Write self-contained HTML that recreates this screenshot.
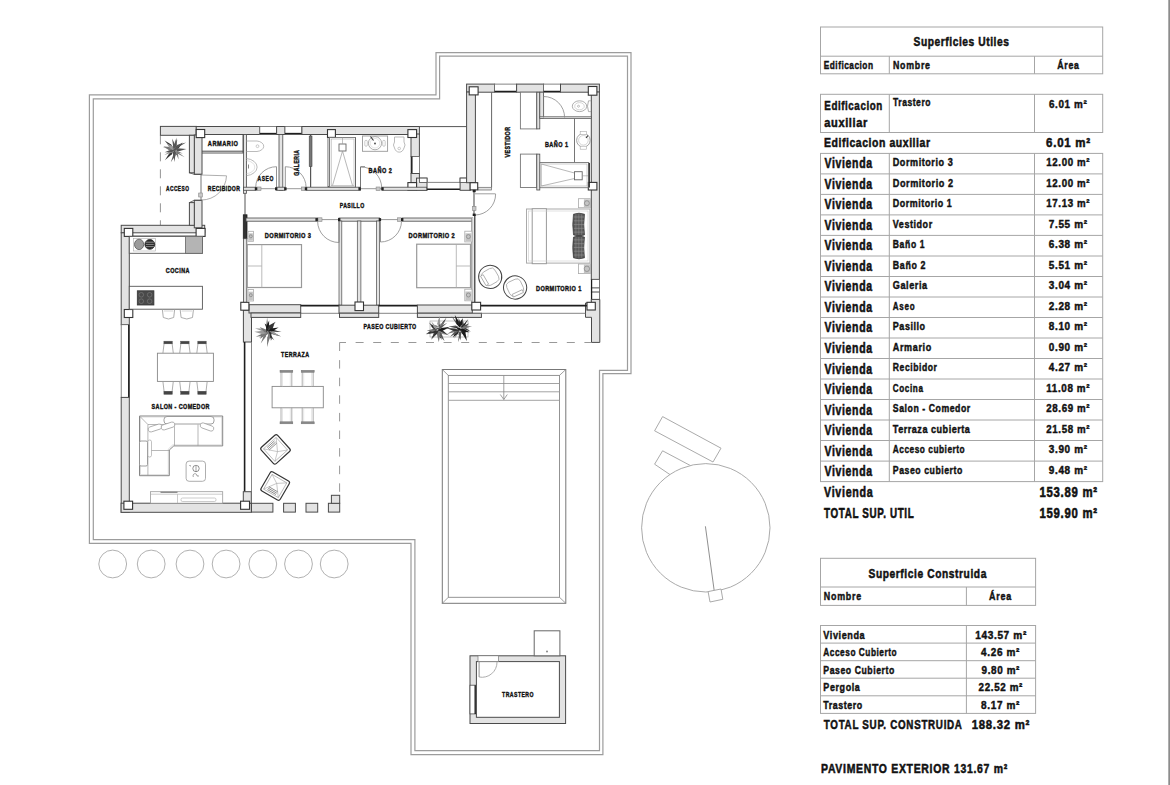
<!DOCTYPE html>
<html><head><meta charset="utf-8"><style>
html,body{margin:0;padding:0;background:#fff;width:1170px;height:785px;overflow:hidden}
svg{display:block;font-family:"Liberation Sans",sans-serif}
</style></head><body>
<svg width="1170" height="785" viewBox="0 0 1170 785">
<rect x="820.5" y="27.0" width="282.2" height="46.8" fill="none" stroke="#a6a6a6" stroke-width="1.0" />
<line x1="820.5" y1="56.2" x2="1102.7" y2="56.2" stroke="#a6a6a6" stroke-width="1.0" />
<line x1="889.3" y1="56.2" x2="889.3" y2="73.8" stroke="#a6a6a6" stroke-width="1.0" />
<line x1="1034.5" y1="56.2" x2="1034.5" y2="73.8" stroke="#a6a6a6" stroke-width="1.0" />
<text transform="translate(913.50,46.30) scale(0.819,1)" x="0" y="0" font-size="12.50" textLength="116.55" lengthAdjust="spacing" fill="#111" stroke="#111" stroke-width="0.50" font-weight="bold" >Superficies Utiles</text>
<text transform="translate(823.70,69.00) scale(0.749,1)" x="0" y="0" font-size="11.11" textLength="65.85" lengthAdjust="spacing" fill="#111" stroke="#111" stroke-width="0.44" font-weight="bold" >Edificacion</text>
<text transform="translate(893.00,69.00) scale(0.793,1)" x="0" y="0" font-size="11.11" textLength="46.65" lengthAdjust="spacing" fill="#111" stroke="#111" stroke-width="0.44" font-weight="bold" >Nombre</text>
<text transform="translate(1057.30,69.20) scale(0.787,1)" x="0" y="0" font-size="11.11" textLength="27.45" lengthAdjust="spacing" fill="#111" stroke="#111" stroke-width="0.44" font-weight="bold" >Área</text>
<rect x="820.5" y="94.3" width="282.2" height="38.2" fill="none" stroke="#a6a6a6" stroke-width="1.0" />
<line x1="889.3" y1="94.3" x2="889.3" y2="132.5" stroke="#a6a6a6" stroke-width="1.0" />
<line x1="1034.5" y1="94.3" x2="1034.5" y2="132.5" stroke="#a6a6a6" stroke-width="1.0" />
<text transform="translate(824.30,109.80) scale(0.782,1)" x="0" y="0" font-size="12.50" textLength="74.08" lengthAdjust="spacing" fill="#111" stroke="#111" stroke-width="0.50" font-weight="bold" >Edificacion</text>
<text transform="translate(824.30,127.00) scale(0.884,1)" x="0" y="0" font-size="12.50" textLength="48.63" lengthAdjust="spacing" fill="#111" stroke="#111" stroke-width="0.50" font-weight="bold" >auxiliar</text>
<text transform="translate(893.00,105.50) scale(0.832,1)" x="0" y="0" font-size="10.28" textLength="45.06" lengthAdjust="spacing" fill="#111" stroke="#111" stroke-width="0.41" font-weight="bold" >Trastero</text>
<text transform="translate(1048.90,107.50) scale(0.923,1)" x="0" y="0" font-size="10.69" textLength="40.95" lengthAdjust="spacing" fill="#111" stroke="#111" stroke-width="0.43" font-weight="bold" >6.01 m²</text>
<text transform="translate(824.00,147.40) scale(0.802,1)" x="0" y="0" font-size="13.06" textLength="132.20" lengthAdjust="spacing" fill="#111" stroke="#111" stroke-width="0.52" font-weight="bold" >Edificacion auxiliar</text>
<text transform="translate(1046.10,147.40) scale(0.911,1)" x="0" y="0" font-size="12.64" textLength="48.39" lengthAdjust="spacing" fill="#111" stroke="#111" stroke-width="0.51" font-weight="bold" >6.01 m²</text>
<rect x="820.5" y="153.4" width="282.2" height="328.2" fill="none" stroke="#a6a6a6" stroke-width="1.0" />
<line x1="889.3" y1="153.4" x2="889.3" y2="481.6" stroke="#a6a6a6" stroke-width="1.0" />
<line x1="1034.5" y1="153.4" x2="1034.5" y2="481.6" stroke="#a6a6a6" stroke-width="1.0" />
<text transform="translate(824.40,168.40) scale(0.755,1)" x="0" y="0" font-size="13.89" textLength="63.18" lengthAdjust="spacing" fill="#111" stroke="#111" stroke-width="0.56" font-weight="bold" >Vivienda</text>
<text transform="translate(892.80,166.20) scale(0.882,1)" x="0" y="0" font-size="10.28" textLength="67.89" lengthAdjust="spacing" fill="#111" stroke="#111" stroke-width="0.41" font-weight="bold" >Dormitorio 3</text>
<text transform="translate(1046.30,166.30) scale(0.853,1)" x="0" y="0" font-size="11.39" textLength="50.64" lengthAdjust="spacing" fill="#111" stroke="#111" stroke-width="0.46" font-weight="bold" >12.00 m²</text>
<line x1="820.5" y1="173.9" x2="1102.7" y2="173.9" stroke="#a6a6a6" stroke-width="1.0" />
<text transform="translate(824.40,188.91) scale(0.755,1)" x="0" y="0" font-size="13.89" textLength="63.18" lengthAdjust="spacing" fill="#111" stroke="#111" stroke-width="0.56" font-weight="bold" >Vivienda</text>
<text transform="translate(892.80,186.71) scale(0.887,1)" x="0" y="0" font-size="10.28" textLength="67.89" lengthAdjust="spacing" fill="#111" stroke="#111" stroke-width="0.41" font-weight="bold" >Dormitorio 2</text>
<text transform="translate(1046.30,186.81) scale(0.853,1)" x="0" y="0" font-size="11.39" textLength="50.64" lengthAdjust="spacing" fill="#111" stroke="#111" stroke-width="0.46" font-weight="bold" >12.00 m²</text>
<line x1="820.5" y1="194.4" x2="1102.7" y2="194.4" stroke="#a6a6a6" stroke-width="1.0" />
<text transform="translate(824.40,209.42) scale(0.755,1)" x="0" y="0" font-size="13.89" textLength="63.18" lengthAdjust="spacing" fill="#111" stroke="#111" stroke-width="0.56" font-weight="bold" >Vivienda</text>
<text transform="translate(892.80,207.22) scale(0.868,1)" x="0" y="0" font-size="10.28" textLength="67.89" lengthAdjust="spacing" fill="#111" stroke="#111" stroke-width="0.41" font-weight="bold" >Dormitorio 1</text>
<text transform="translate(1046.30,207.32) scale(0.853,1)" x="0" y="0" font-size="11.39" textLength="50.64" lengthAdjust="spacing" fill="#111" stroke="#111" stroke-width="0.46" font-weight="bold" >17.13 m²</text>
<line x1="820.5" y1="214.9" x2="1102.7" y2="214.9" stroke="#a6a6a6" stroke-width="1.0" />
<text transform="translate(824.40,229.93) scale(0.755,1)" x="0" y="0" font-size="13.89" textLength="63.18" lengthAdjust="spacing" fill="#111" stroke="#111" stroke-width="0.56" font-weight="bold" >Vivienda</text>
<text transform="translate(892.80,227.73) scale(0.874,1)" x="0" y="0" font-size="10.28" textLength="45.06" lengthAdjust="spacing" fill="#111" stroke="#111" stroke-width="0.41" font-weight="bold" >Vestidor</text>
<text transform="translate(1048.80,227.83) scale(0.876,1)" x="0" y="0" font-size="11.39" textLength="43.61" lengthAdjust="spacing" fill="#111" stroke="#111" stroke-width="0.46" font-weight="bold" >7.55 m²</text>
<line x1="820.5" y1="235.4" x2="1102.7" y2="235.4" stroke="#a6a6a6" stroke-width="1.0" />
<text transform="translate(824.40,250.44) scale(0.755,1)" x="0" y="0" font-size="13.89" textLength="63.18" lengthAdjust="spacing" fill="#111" stroke="#111" stroke-width="0.56" font-weight="bold" >Vivienda</text>
<text transform="translate(892.80,248.24) scale(0.835,1)" x="0" y="0" font-size="10.28" textLength="38.07" lengthAdjust="spacing" fill="#111" stroke="#111" stroke-width="0.41" font-weight="bold" >Baño 1</text>
<text transform="translate(1048.80,248.34) scale(0.876,1)" x="0" y="0" font-size="11.39" textLength="43.61" lengthAdjust="spacing" fill="#111" stroke="#111" stroke-width="0.46" font-weight="bold" >6.38 m²</text>
<line x1="820.5" y1="256.0" x2="1102.7" y2="256.0" stroke="#a6a6a6" stroke-width="1.0" />
<text transform="translate(824.40,270.95) scale(0.755,1)" x="0" y="0" font-size="13.89" textLength="63.18" lengthAdjust="spacing" fill="#111" stroke="#111" stroke-width="0.56" font-weight="bold" >Vivienda</text>
<text transform="translate(892.80,268.75) scale(0.859,1)" x="0" y="0" font-size="10.28" textLength="38.07" lengthAdjust="spacing" fill="#111" stroke="#111" stroke-width="0.41" font-weight="bold" >Baño 2</text>
<text transform="translate(1048.80,268.85) scale(0.876,1)" x="0" y="0" font-size="11.39" textLength="43.61" lengthAdjust="spacing" fill="#111" stroke="#111" stroke-width="0.46" font-weight="bold" >5.51 m²</text>
<line x1="820.5" y1="276.5" x2="1102.7" y2="276.5" stroke="#a6a6a6" stroke-width="1.0" />
<text transform="translate(824.40,291.46) scale(0.755,1)" x="0" y="0" font-size="13.89" textLength="63.18" lengthAdjust="spacing" fill="#111" stroke="#111" stroke-width="0.56" font-weight="bold" >Vivienda</text>
<text transform="translate(892.80,289.26) scale(0.888,1)" x="0" y="0" font-size="10.28" textLength="38.72" lengthAdjust="spacing" fill="#111" stroke="#111" stroke-width="0.41" font-weight="bold" >Galeria</text>
<text transform="translate(1048.80,289.36) scale(0.876,1)" x="0" y="0" font-size="11.39" textLength="43.61" lengthAdjust="spacing" fill="#111" stroke="#111" stroke-width="0.46" font-weight="bold" >3.04 m²</text>
<line x1="820.5" y1="297.0" x2="1102.7" y2="297.0" stroke="#a6a6a6" stroke-width="1.0" />
<text transform="translate(824.40,311.97) scale(0.755,1)" x="0" y="0" font-size="13.89" textLength="63.18" lengthAdjust="spacing" fill="#111" stroke="#111" stroke-width="0.56" font-weight="bold" >Vivienda</text>
<text transform="translate(892.80,309.77) scale(0.784,1)" x="0" y="0" font-size="10.28" textLength="27.92" lengthAdjust="spacing" fill="#111" stroke="#111" stroke-width="0.41" font-weight="bold" >Aseo</text>
<text transform="translate(1048.80,309.87) scale(0.876,1)" x="0" y="0" font-size="11.39" textLength="43.61" lengthAdjust="spacing" fill="#111" stroke="#111" stroke-width="0.46" font-weight="bold" >2.28 m²</text>
<line x1="820.5" y1="317.5" x2="1102.7" y2="317.5" stroke="#a6a6a6" stroke-width="1.0" />
<text transform="translate(824.40,332.48) scale(0.755,1)" x="0" y="0" font-size="13.89" textLength="63.18" lengthAdjust="spacing" fill="#111" stroke="#111" stroke-width="0.56" font-weight="bold" >Vivienda</text>
<text transform="translate(892.80,330.28) scale(0.877,1)" x="0" y="0" font-size="10.28" textLength="36.81" lengthAdjust="spacing" fill="#111" stroke="#111" stroke-width="0.41" font-weight="bold" >Pasillo</text>
<text transform="translate(1048.80,330.38) scale(0.876,1)" x="0" y="0" font-size="11.39" textLength="43.61" lengthAdjust="spacing" fill="#111" stroke="#111" stroke-width="0.46" font-weight="bold" >8.10 m²</text>
<line x1="820.5" y1="338.0" x2="1102.7" y2="338.0" stroke="#a6a6a6" stroke-width="1.0" />
<text transform="translate(824.40,352.99) scale(0.755,1)" x="0" y="0" font-size="13.89" textLength="63.18" lengthAdjust="spacing" fill="#111" stroke="#111" stroke-width="0.56" font-weight="bold" >Vivienda</text>
<text transform="translate(892.80,350.79) scale(0.879,1)" x="0" y="0" font-size="10.28" textLength="43.79" lengthAdjust="spacing" fill="#111" stroke="#111" stroke-width="0.41" font-weight="bold" >Armario</text>
<text transform="translate(1048.80,350.89) scale(0.876,1)" x="0" y="0" font-size="11.39" textLength="43.61" lengthAdjust="spacing" fill="#111" stroke="#111" stroke-width="0.46" font-weight="bold" >0.90 m²</text>
<line x1="820.5" y1="358.5" x2="1102.7" y2="358.5" stroke="#a6a6a6" stroke-width="1.0" />
<text transform="translate(824.40,373.50) scale(0.755,1)" x="0" y="0" font-size="13.89" textLength="63.18" lengthAdjust="spacing" fill="#111" stroke="#111" stroke-width="0.56" font-weight="bold" >Vivienda</text>
<text transform="translate(892.80,371.30) scale(0.837,1)" x="0" y="0" font-size="10.28" textLength="52.66" lengthAdjust="spacing" fill="#111" stroke="#111" stroke-width="0.41" font-weight="bold" >Recibidor</text>
<text transform="translate(1048.80,371.40) scale(0.876,1)" x="0" y="0" font-size="11.39" textLength="43.61" lengthAdjust="spacing" fill="#111" stroke="#111" stroke-width="0.46" font-weight="bold" >4.27 m²</text>
<line x1="820.5" y1="379.0" x2="1102.7" y2="379.0" stroke="#a6a6a6" stroke-width="1.0" />
<text transform="translate(824.40,394.01) scale(0.755,1)" x="0" y="0" font-size="13.89" textLength="63.18" lengthAdjust="spacing" fill="#111" stroke="#111" stroke-width="0.56" font-weight="bold" >Vivienda</text>
<text transform="translate(892.80,391.81) scale(0.791,1)" x="0" y="0" font-size="10.28" textLength="38.07" lengthAdjust="spacing" fill="#111" stroke="#111" stroke-width="0.41" font-weight="bold" >Cocina</text>
<text transform="translate(1046.30,391.91) scale(0.865,1)" x="0" y="0" font-size="11.39" textLength="49.95" lengthAdjust="spacing" fill="#111" stroke="#111" stroke-width="0.46" font-weight="bold" >11.08 m²</text>
<line x1="820.5" y1="399.5" x2="1102.7" y2="399.5" stroke="#a6a6a6" stroke-width="1.0" />
<text transform="translate(824.40,414.52) scale(0.755,1)" x="0" y="0" font-size="13.89" textLength="63.18" lengthAdjust="spacing" fill="#111" stroke="#111" stroke-width="0.56" font-weight="bold" >Vivienda</text>
<text transform="translate(892.80,412.32) scale(0.848,1)" x="0" y="0" font-size="10.28" textLength="91.36" lengthAdjust="spacing" fill="#111" stroke="#111" stroke-width="0.41" font-weight="bold" >Salon - Comedor</text>
<text transform="translate(1046.30,412.42) scale(0.853,1)" x="0" y="0" font-size="11.39" textLength="50.64" lengthAdjust="spacing" fill="#111" stroke="#111" stroke-width="0.46" font-weight="bold" >28.69 m²</text>
<line x1="820.5" y1="420.0" x2="1102.7" y2="420.0" stroke="#a6a6a6" stroke-width="1.0" />
<text transform="translate(824.40,435.03) scale(0.755,1)" x="0" y="0" font-size="13.89" textLength="63.18" lengthAdjust="spacing" fill="#111" stroke="#111" stroke-width="0.56" font-weight="bold" >Vivienda</text>
<text transform="translate(892.80,432.83) scale(0.882,1)" x="0" y="0" font-size="10.28" textLength="87.37" lengthAdjust="spacing" fill="#111" stroke="#111" stroke-width="0.41" font-weight="bold" >Terraza cubierta</text>
<text transform="translate(1046.30,432.93) scale(0.853,1)" x="0" y="0" font-size="11.39" textLength="50.64" lengthAdjust="spacing" fill="#111" stroke="#111" stroke-width="0.46" font-weight="bold" >21.58 m²</text>
<line x1="820.5" y1="440.5" x2="1102.7" y2="440.5" stroke="#a6a6a6" stroke-width="1.0" />
<text transform="translate(824.40,455.54) scale(0.755,1)" x="0" y="0" font-size="13.89" textLength="63.18" lengthAdjust="spacing" fill="#111" stroke="#111" stroke-width="0.56" font-weight="bold" >Vivienda</text>
<text transform="translate(892.80,453.34) scale(0.809,1)" x="0" y="0" font-size="10.28" textLength="88.84" lengthAdjust="spacing" fill="#111" stroke="#111" stroke-width="0.41" font-weight="bold" >Acceso cubierto</text>
<text transform="translate(1048.80,453.44) scale(0.876,1)" x="0" y="0" font-size="11.39" textLength="43.61" lengthAdjust="spacing" fill="#111" stroke="#111" stroke-width="0.46" font-weight="bold" >3.90 m²</text>
<line x1="820.5" y1="461.1" x2="1102.7" y2="461.1" stroke="#a6a6a6" stroke-width="1.0" />
<text transform="translate(824.40,476.05) scale(0.755,1)" x="0" y="0" font-size="13.89" textLength="63.18" lengthAdjust="spacing" fill="#111" stroke="#111" stroke-width="0.56" font-weight="bold" >Vivienda</text>
<text transform="translate(892.80,473.85) scale(0.849,1)" x="0" y="0" font-size="10.28" textLength="81.86" lengthAdjust="spacing" fill="#111" stroke="#111" stroke-width="0.41" font-weight="bold" >Paseo cubierto</text>
<text transform="translate(1048.80,473.95) scale(0.876,1)" x="0" y="0" font-size="11.39" textLength="43.61" lengthAdjust="spacing" fill="#111" stroke="#111" stroke-width="0.46" font-weight="bold" >9.48 m²</text>
<text transform="translate(824.00,497.40) scale(0.771,1)" x="0" y="0" font-size="13.89" textLength="63.18" lengthAdjust="spacing" fill="#111" stroke="#111" stroke-width="0.56" font-weight="bold" >Vivienda</text>
<text transform="translate(1039.40,497.40) scale(0.819,1)" x="0" y="0" font-size="13.89" textLength="70.34" lengthAdjust="spacing" fill="#111" stroke="#111" stroke-width="0.56" font-weight="bold" >153.89 m²</text>
<text transform="translate(824.00,518.00) scale(0.695,1)" x="0" y="0" font-size="14.17" textLength="129.14" lengthAdjust="spacing" fill="#111" stroke="#111" stroke-width="0.57" font-weight="bold" >TOTAL SUP. UTIL</text>
<text transform="translate(1039.40,518.00) scale(0.803,1)" x="0" y="0" font-size="14.17" textLength="71.75" lengthAdjust="spacing" fill="#111" stroke="#111" stroke-width="0.57" font-weight="bold" >159.90 m²</text>
<rect x="820.5" y="558.3" width="215.1" height="47.1" fill="none" stroke="#a6a6a6" stroke-width="1.0" />
<line x1="820.5" y1="587.0" x2="1035.6" y2="587.0" stroke="#a6a6a6" stroke-width="1.0" />
<line x1="966.4" y1="587.0" x2="966.4" y2="605.4" stroke="#a6a6a6" stroke-width="1.0" />
<text transform="translate(868.50,577.50) scale(0.782,1)" x="0" y="0" font-size="13.06" textLength="150.72" lengthAdjust="spacing" fill="#111" stroke="#111" stroke-width="0.52" font-weight="bold" >Superficie Construida</text>
<text transform="translate(823.80,600.10) scale(0.822,1)" x="0" y="0" font-size="10.83" textLength="45.48" lengthAdjust="spacing" fill="#111" stroke="#111" stroke-width="0.43" font-weight="bold" >Nombre</text>
<text transform="translate(989.00,600.10) scale(0.829,1)" x="0" y="0" font-size="10.83" textLength="26.77" lengthAdjust="spacing" fill="#111" stroke="#111" stroke-width="0.43" font-weight="bold" >Área</text>
<rect x="820.5" y="625.5" width="215.1" height="87.9" fill="none" stroke="#a6a6a6" stroke-width="1.0" />
<line x1="966.4" y1="625.5" x2="966.4" y2="713.4" stroke="#a6a6a6" stroke-width="1.0" />
<text transform="translate(823.30,638.70) scale(0.789,1)" x="0" y="0" font-size="11.53" textLength="52.44" lengthAdjust="spacing" fill="#111" stroke="#111" stroke-width="0.46" font-weight="bold" >Vivienda</text>
<text transform="translate(975.20,638.70) scale(0.875,1)" x="0" y="0" font-size="11.53" textLength="58.39" lengthAdjust="spacing" fill="#111" stroke="#111" stroke-width="0.46" font-weight="bold" >143.57 m²</text>
<line x1="820.5" y1="643.1" x2="1035.6" y2="643.1" stroke="#a6a6a6" stroke-width="1.0" />
<text transform="translate(823.30,656.28) scale(0.720,1)" x="0" y="0" font-size="11.53" textLength="101.77" lengthAdjust="spacing" fill="#111" stroke="#111" stroke-width="0.46" font-weight="bold" >Acceso Cubierto</text>
<text transform="translate(981.10,656.28) scale(0.868,1)" x="0" y="0" font-size="11.53" textLength="44.14" lengthAdjust="spacing" fill="#111" stroke="#111" stroke-width="0.46" font-weight="bold" >4.26 m²</text>
<line x1="820.5" y1="660.7" x2="1035.6" y2="660.7" stroke="#a6a6a6" stroke-width="1.0" />
<text transform="translate(823.30,673.86) scale(0.755,1)" x="0" y="0" font-size="11.53" textLength="93.95" lengthAdjust="spacing" fill="#111" stroke="#111" stroke-width="0.46" font-weight="bold" >Paseo Cubierto</text>
<text transform="translate(981.50,673.86) scale(0.859,1)" x="0" y="0" font-size="11.53" textLength="44.14" lengthAdjust="spacing" fill="#111" stroke="#111" stroke-width="0.46" font-weight="bold" >9.80 m²</text>
<line x1="820.5" y1="678.2" x2="1035.6" y2="678.2" stroke="#a6a6a6" stroke-width="1.0" />
<text transform="translate(823.30,691.44) scale(0.777,1)" x="0" y="0" font-size="11.53" textLength="46.98" lengthAdjust="spacing" fill="#111" stroke="#111" stroke-width="0.46" font-weight="bold" >Pergola</text>
<text transform="translate(978.60,691.44) scale(0.854,1)" x="0" y="0" font-size="11.53" textLength="51.26" lengthAdjust="spacing" fill="#111" stroke="#111" stroke-width="0.46" font-weight="bold" >22.52 m²</text>
<line x1="820.5" y1="695.8" x2="1035.6" y2="695.8" stroke="#a6a6a6" stroke-width="1.0" />
<text transform="translate(823.30,709.02) scale(0.770,1)" x="0" y="0" font-size="11.53" textLength="50.54" lengthAdjust="spacing" fill="#111" stroke="#111" stroke-width="0.46" font-weight="bold" >Trastero</text>
<text transform="translate(981.10,709.02) scale(0.868,1)" x="0" y="0" font-size="11.53" textLength="44.14" lengthAdjust="spacing" fill="#111" stroke="#111" stroke-width="0.46" font-weight="bold" >8.17 m²</text>
<text transform="translate(823.80,729.10) scale(0.753,1)" x="0" y="0" font-size="13.06" textLength="183.49" lengthAdjust="spacing" fill="#111" stroke="#111" stroke-width="0.52" font-weight="bold" >TOTAL SUP. CONSTRUIDA</text>
<text transform="translate(971.70,729.10) scale(0.871,1)" x="0" y="0" font-size="13.06" textLength="66.12" lengthAdjust="spacing" fill="#111" stroke="#111" stroke-width="0.52" font-weight="bold" >188.32 m²</text>
<text transform="translate(821.00,773.10) scale(0.802,1)" x="0" y="0" font-size="13.06" textLength="232.16" lengthAdjust="spacing" fill="#111" stroke="#111" stroke-width="0.52" font-weight="bold" >PAVIMENTO EXTERIOR 131.67 m²</text>
<rect x="1168.3" y="0.0" width="1.7" height="785.0" fill="#8c8c8c" stroke="none" stroke-width="0" />
<path d="M93.3,98.8 L439.6,98.8 L439.6,56.1 L627.5,56.1 L627.5,370.3 L599.5,370.3 L599.5,750.6 L414.9,750.6 L414.9,539.6 L93.3,539.6 Z" fill="none" stroke="#9c9c9c" stroke-width="1.2" />
<path d="M89.4,94.9 L436.0,94.9 L436.0,52.7 L631.0,52.7 L631.0,373.6 L602.9,373.6 L602.9,754.7 L411.0,754.7 L411.0,543.3 L89.4,543.3 Z" fill="none" stroke="#9c9c9c" stroke-width="1.2" />
<circle cx="112.7" cy="564.0" r="13.9" fill="none" stroke="#a8a8a8" stroke-width="0.9" />
<circle cx="151.2" cy="564.0" r="13.9" fill="none" stroke="#a8a8a8" stroke-width="0.9" />
<circle cx="190.0" cy="564.0" r="13.9" fill="none" stroke="#a8a8a8" stroke-width="0.9" />
<circle cx="226.1" cy="564.0" r="13.9" fill="none" stroke="#a8a8a8" stroke-width="0.9" />
<circle cx="262.8" cy="564.0" r="13.9" fill="none" stroke="#a8a8a8" stroke-width="0.9" />
<circle cx="298.5" cy="564.0" r="13.9" fill="none" stroke="#a8a8a8" stroke-width="0.9" />
<circle cx="334.2" cy="564.0" r="13.9" fill="none" stroke="#a8a8a8" stroke-width="0.9" />
<path d="M662.6,416.6 L721,448.2 L713,462 L654.6,430.8 Z" fill="none" stroke="#a0a0a0" stroke-width="0.9" />
<path d="M662.6,450.8 L695,468 L675,478 L654.6,464.2 Z" fill="none" stroke="#a0a0a0" stroke-width="0.9" />
<circle cx="705.8" cy="527.8" r="64.2" fill="#fff" stroke="#a0a0a0" stroke-width="0.9" />
<line x1="705.4" y1="526.3" x2="715.0" y2="596.6" stroke="#909090" stroke-width="1.0" />
<path d="M708.1,591.6 L721,589 L722.8,599.3 L710,602 Z" fill="#fff" stroke="#a0a0a0" stroke-width="0.9" />
<rect x="442.3" y="369.5" width="123.5" height="233.8" fill="none" stroke="#777" stroke-width="1" />
<rect x="448.3" y="375.4" width="111.2" height="221.9" fill="none" stroke="#888" stroke-width="0.9" />
<line x1="442.3" y1="369.5" x2="448.3" y2="375.4" stroke="#888" stroke-width="0.8" />
<line x1="565.8" y1="369.5" x2="559.5" y2="375.4" stroke="#888" stroke-width="0.8" />
<line x1="442.3" y1="603.3" x2="448.3" y2="597.3" stroke="#888" stroke-width="0.8" />
<line x1="565.8" y1="603.3" x2="559.5" y2="597.3" stroke="#888" stroke-width="0.8" />
<line x1="448.3" y1="383.5" x2="559.5" y2="383.5" stroke="#999" stroke-width="0.9" />
<line x1="448.3" y1="391.8" x2="559.5" y2="391.8" stroke="#999" stroke-width="0.9" />
<line x1="448.3" y1="400.3" x2="559.5" y2="400.3" stroke="#999" stroke-width="0.9" />
<line x1="503.8" y1="375.4" x2="503.8" y2="399.5" stroke="#888" stroke-width="0.8" />
<path d="M500.3,394.5 L503.8,399.5 L507.3,394.5" fill="none" stroke="#888" stroke-width="0.8" />
<rect x="470.0" y="655.8" width="95.6" height="67.7" fill="#e3e3e3" stroke="#4a4a4a" stroke-width="1" />
<rect x="476.4" y="661.6" width="83.0" height="55.7" fill="#fff" stroke="#4a4a4a" stroke-width="1" />
<rect x="470.0" y="685.2" width="6.4" height="28.7" fill="#fff" stroke="#4a4a4a" stroke-width="0.8" />
<line x1="475.2" y1="685.2" x2="475.2" y2="713.9" stroke="#1e1e1e" stroke-width="1.4" />
<rect x="478.0" y="655.8" width="20.6" height="5.8" fill="#fff" stroke="#777" stroke-width="0.7" />
<line x1="479.1" y1="662.0" x2="479.1" y2="677.0" stroke="#777" stroke-width="0.8" />
<path d="M479.1,677 A15,15 0 0,0 497,662" fill="none" stroke="#999" stroke-width="0.8" />
<rect x="534.2" y="630.8" width="25.7" height="25.0" fill="#fff" stroke="#666" stroke-width="1" />
<circle cx="547.0" cy="651.6" r="1.0" fill="#888" stroke="none" stroke-width="0" />
<text transform="translate(502.10,696.70) scale(0.661,1)" x="0" y="0" font-size="7.78" textLength="47.53" lengthAdjust="spacing" fill="#111" stroke="#111" stroke-width="0.43" font-weight="bold" >TRASTERO</text>
<line x1="419.4" y1="126.6" x2="466.6" y2="126.6" stroke="#555" stroke-width="1" />
<line x1="160.4" y1="135.3" x2="160.4" y2="225.3" stroke="#888" stroke-width="0.9" stroke-dasharray="9,8"/>
<line x1="339.6" y1="342.5" x2="339.6" y2="495.3" stroke="#999" stroke-width="1.0" stroke-dasharray="8.5,9.1" stroke-dashoffset="0"/>
<line x1="339.5" y1="342.5" x2="591.2" y2="342.5" stroke="#999" stroke-width="1.0" stroke-dasharray="8,9.6" stroke-dashoffset="1.5"/>
<rect x="160.4" y="126.4" width="36.0" height="8.9" fill="#e3e3e3" stroke="#4a4a4a" stroke-width="1.0" />
<rect x="196.2" y="126.5" width="63.6" height="8.0" fill="#e3e3e3" stroke="#4a4a4a" stroke-width="1.0" />
<rect x="259.8" y="126.5" width="16.8" height="8.0" fill="#fff" stroke="#666" stroke-width="0.8" />
<line x1="259.8" y1="133.6" x2="276.6" y2="133.6" stroke="#1e1e1e" stroke-width="1.5" />
<rect x="276.6" y="126.5" width="8.4" height="8.0" fill="#e3e3e3" stroke="#4a4a4a" stroke-width="1.0" />
<rect x="285.0" y="126.5" width="16.9" height="8.0" fill="#fff" stroke="#666" stroke-width="0.8" />
<line x1="285.0" y1="133.6" x2="301.9" y2="133.6" stroke="#1e1e1e" stroke-width="1.5" />
<rect x="301.9" y="126.5" width="117.5" height="8.0" fill="#e3e3e3" stroke="#4a4a4a" stroke-width="1.0" />
<rect x="411.0" y="134.0" width="8.4" height="22.6" fill="#e3e3e3" stroke="#4a4a4a" stroke-width="1.0" />
<rect x="411.0" y="156.6" width="8.4" height="16.9" fill="#fff" stroke="#666" stroke-width="0.8" />
<line x1="411.8" y1="156.6" x2="411.8" y2="173.5" stroke="#1e1e1e" stroke-width="1.5" />
<rect x="411.0" y="173.5" width="8.4" height="9.1" fill="#e3e3e3" stroke="#4a4a4a" stroke-width="1.0" />
<rect x="416.5" y="178.1" width="10.5" height="12.2" fill="#e3e3e3" stroke="#4a4a4a" stroke-width="1.0" />
<rect x="419.4" y="178.1" width="7.6" height="4.3" fill="#fff" stroke="#4a4a4a" stroke-width="0.8" />
<rect x="407.9" y="182.6" width="8.7" height="7.7" fill="#fff" stroke="#333" stroke-width="1.1" />
<line x1="427.0" y1="182.4" x2="460.1" y2="182.4" stroke="#777" stroke-width="0.9" />
<line x1="427.0" y1="189.3" x2="460.1" y2="189.3" stroke="#1e1e1e" stroke-width="1.6" />
<rect x="460.1" y="178.1" width="10.2" height="12.2" fill="#e3e3e3" stroke="#4a4a4a" stroke-width="1.0" />
<rect x="460.1" y="178.1" width="6.5" height="4.3" fill="#fff" stroke="#4a4a4a" stroke-width="0.8" />
<rect x="466.6" y="84.1" width="28.0" height="8.1" fill="#e3e3e3" stroke="#4a4a4a" stroke-width="1.0" />
<rect x="494.6" y="84.1" width="22.0" height="8.1" fill="#fff" stroke="#666" stroke-width="0.8" />
<line x1="494.6" y1="91.5" x2="516.6" y2="91.5" stroke="#1e1e1e" stroke-width="1.5" />
<rect x="516.6" y="84.1" width="27.0" height="8.1" fill="#e3e3e3" stroke="#4a4a4a" stroke-width="1.0" />
<rect x="543.6" y="84.1" width="16.9" height="8.1" fill="#fff" stroke="#666" stroke-width="0.8" />
<line x1="543.6" y1="91.5" x2="560.5" y2="91.5" stroke="#1e1e1e" stroke-width="1.5" />
<rect x="560.5" y="84.1" width="38.9" height="8.1" fill="#e3e3e3" stroke="#4a4a4a" stroke-width="1.0" />
<rect x="466.6" y="92.0" width="8.8" height="90.7" fill="#e3e3e3" stroke="#4a4a4a" stroke-width="1.0" />
<rect x="591.3" y="92.0" width="8.1" height="187.4" fill="#e3e3e3" stroke="#4a4a4a" stroke-width="1.0" />
<rect x="591.3" y="279.4" width="8.1" height="8.6" fill="#fff" stroke="#555" stroke-width="0.8" />
<rect x="591.3" y="288.0" width="8.1" height="4.1" fill="#fff" stroke="#555" stroke-width="0.8" />
<rect x="591.3" y="292.1" width="8.1" height="8.9" fill="#fff" stroke="#555" stroke-width="0.8" />
<line x1="591.6" y1="279.4" x2="591.6" y2="302.0" stroke="#1e1e1e" stroke-width="1.2" />
<path d="M585.5,303 L585.5,317.3 L591.5,317.3 L591.5,342.4 L599.8,342.4 L599.8,299.4 L591.3,299.4 L591.3,303 Z" fill="#e3e3e3" stroke="#4a4a4a" stroke-width="1.0" />
<rect x="121.2" y="225.3" width="83.5" height="7.5" fill="#e3e3e3" stroke="#4a4a4a" stroke-width="1.0" />
<line x1="129.3" y1="236.0" x2="196.1" y2="236.0" stroke="#4a4a4a" stroke-width="0.9" />
<rect x="121.2" y="232.8" width="8.1" height="91.9" fill="#e3e3e3" stroke="#4a4a4a" stroke-width="1.0" />
<rect x="121.2" y="324.7" width="8.1" height="72.7" fill="#fff" stroke="#666" stroke-width="0.8" />
<line x1="128.8" y1="324.7" x2="128.8" y2="397.4" stroke="#1e1e1e" stroke-width="1.5" />
<rect x="121.2" y="397.4" width="8.1" height="114.9" fill="#e3e3e3" stroke="#4a4a4a" stroke-width="1.0" />
<rect x="121.1" y="503.2" width="130.2" height="9.1" fill="#e3e3e3" stroke="#4a4a4a" stroke-width="1.0" />
<rect x="194.3" y="135.0" width="7.7" height="39.3" fill="#e3e3e3" stroke="#4a4a4a" stroke-width="1.0" />
<rect x="194.3" y="200.3" width="7.7" height="27.5" fill="#e3e3e3" stroke="#4a4a4a" stroke-width="1.0" />
<rect x="189.4" y="135.3" width="4.9" height="37.5" fill="#e3e3e3" stroke="#4a4a4a" stroke-width="1.0" />
<rect x="189.4" y="202.6" width="4.9" height="22.7" fill="#e3e3e3" stroke="#4a4a4a" stroke-width="1.0" />
<line x1="194.3" y1="174.3" x2="202.0" y2="174.3" stroke="#4a4a4a" stroke-width="0.8" />
<line x1="194.3" y1="200.3" x2="202.0" y2="200.3" stroke="#4a4a4a" stroke-width="0.8" />
<line x1="189.4" y1="172.8" x2="194.3" y2="174.3" stroke="#4a4a4a" stroke-width="0.8" />
<line x1="189.4" y1="202.6" x2="194.3" y2="200.3" stroke="#4a4a4a" stroke-width="0.8" />
<rect x="243.4" y="310.0" width="8.1" height="32.0" fill="#e3e3e3" stroke="#4a4a4a" stroke-width="1.0" />
<line x1="244.6" y1="342.0" x2="244.6" y2="491.7" stroke="#1e1e1e" stroke-width="1.6" />
<line x1="251.5" y1="342.0" x2="251.5" y2="491.7" stroke="#777" stroke-width="0.9" />
<rect x="243.3" y="491.7" width="8.0" height="11.5" fill="#e3e3e3" stroke="#4a4a4a" stroke-width="1.0" />
<rect x="243.5" y="134.5" width="3.0" height="58.8" fill="#e3e3e3" stroke="#4a4a4a" stroke-width="0.8" />
<line x1="245.0" y1="193.3" x2="245.0" y2="214.8" stroke="#555" stroke-width="1.0" />
<rect x="243.3" y="214.8" width="3.7" height="23.9" fill="#333" stroke="#1e1e1e" stroke-width="0.8" />
<rect x="243.6" y="238.7" width="3.2" height="63.7" fill="#e3e3e3" stroke="#4a4a4a" stroke-width="0.8" />
<rect x="279.0" y="134.5" width="3.8" height="55.8" fill="#e3e3e3" stroke="#4a4a4a" stroke-width="0.8" />
<line x1="310.6" y1="134.5" x2="310.6" y2="187.2" stroke="#555" stroke-width="1.2" />
<rect x="309.2" y="136.0" width="2.8" height="30.6" fill="#777" stroke="#444" stroke-width="0.6" />
<rect x="327.9" y="134.5" width="1.7" height="52.7" fill="#e3e3e3" stroke="#4a4a4a" stroke-width="0.6" />
<line x1="202.0" y1="151.2" x2="243.5" y2="151.2" stroke="#4a4a4a" stroke-width="1.0" />
<line x1="202.0" y1="153.0" x2="243.5" y2="153.0" stroke="#4a4a4a" stroke-width="0.9" />
<rect x="243.5" y="187.2" width="12.5" height="3.1" fill="#e3e3e3" stroke="#4a4a4a" stroke-width="0.8" />
<rect x="276.6" y="187.2" width="8.4" height="3.1" fill="#e3e3e3" stroke="#4a4a4a" stroke-width="0.8" />
<rect x="306.0" y="187.2" width="54.5" height="3.1" fill="#e3e3e3" stroke="#4a4a4a" stroke-width="0.8" />
<rect x="382.0" y="187.2" width="44.7" height="3.1" fill="#e3e3e3" stroke="#4a4a4a" stroke-width="0.8" />
<line x1="256.0" y1="188.7" x2="276.6" y2="188.7" stroke="#999" stroke-width="1.0" />
<line x1="285.0" y1="188.7" x2="306.0" y2="188.7" stroke="#999" stroke-width="1.0" />
<line x1="360.5" y1="188.7" x2="382.0" y2="188.7" stroke="#999" stroke-width="1.0" />
<rect x="246.0" y="218.0" width="71.6" height="3.2" fill="#e3e3e3" stroke="#4a4a4a" stroke-width="0.8" />
<rect x="339.0" y="218.0" width="40.6" height="3.2" fill="#e3e3e3" stroke="#4a4a4a" stroke-width="0.8" />
<rect x="402.4" y="218.0" width="70.4" height="3.2" fill="#e3e3e3" stroke="#4a4a4a" stroke-width="0.8" />
<line x1="317.6" y1="219.6" x2="339.0" y2="219.6" stroke="#999" stroke-width="1.0" />
<line x1="379.6" y1="219.6" x2="402.4" y2="219.6" stroke="#999" stroke-width="1.0" />
<rect x="339.0" y="221.0" width="2.8" height="84.2" fill="#e3e3e3" stroke="#4a4a4a" stroke-width="0.7" />
<rect x="357.3" y="221.0" width="3.6" height="84.2" fill="#e3e3e3" stroke="#4a4a4a" stroke-width="0.7" />
<rect x="376.4" y="221.0" width="3.2" height="84.2" fill="#e3e3e3" stroke="#4a4a4a" stroke-width="0.7" />
<rect x="471.8" y="218.0" width="3.0" height="84.3" fill="#e6e6e6" stroke="none" stroke-width="0" />
<line x1="471.8" y1="218.0" x2="471.8" y2="302.3" stroke="#888" stroke-width="1.0" />
<line x1="474.8" y1="214.9" x2="474.8" y2="302.3" stroke="#333" stroke-width="1.2" />
<line x1="474.0" y1="190.0" x2="474.0" y2="214.9" stroke="#555" stroke-width="1.1" />
<rect x="249.0" y="304.7" width="51.7" height="8.3" fill="#e3e3e3" stroke="#4a4a4a" stroke-width="1.0" />
<rect x="251.0" y="313.0" width="49.7" height="4.4" fill="#e3e3e3" stroke="#4a4a4a" stroke-width="1.0" />
<line x1="300.7" y1="305.7" x2="339.4" y2="305.7" stroke="#1e1e1e" stroke-width="1.7" />
<line x1="300.7" y1="313.3" x2="339.4" y2="313.3" stroke="#777" stroke-width="0.9" />
<rect x="339.0" y="305.2" width="39.7" height="8.0" fill="#e3e3e3" stroke="#4a4a4a" stroke-width="1.0" />
<rect x="339.5" y="313.2" width="39.2" height="4.2" fill="#e3e3e3" stroke="#4a4a4a" stroke-width="1.0" />
<line x1="378.7" y1="305.7" x2="417.4" y2="305.7" stroke="#1e1e1e" stroke-width="1.7" />
<line x1="378.7" y1="313.3" x2="417.4" y2="313.3" stroke="#777" stroke-width="0.9" />
<rect x="417.4" y="305.0" width="54.9" height="8.2" fill="#e3e3e3" stroke="#4a4a4a" stroke-width="1.0" />
<rect x="417.4" y="313.2" width="64.0" height="4.2" fill="#e3e3e3" stroke="#4a4a4a" stroke-width="1.0" />
<line x1="480.6" y1="305.7" x2="587.0" y2="305.7" stroke="#1e1e1e" stroke-width="1.7" />
<line x1="481.4" y1="313.3" x2="585.5" y2="313.3" stroke="#777" stroke-width="0.9" />
<rect x="251.5" y="503.3" width="21.4" height="8.8" fill="#e3e3e3" stroke="#4a4a4a" stroke-width="1.0" />
<rect x="283.6" y="503.3" width="11.8" height="8.8" fill="#e3e3e3" stroke="#4a4a4a" stroke-width="1.0" />
<rect x="306.0" y="503.3" width="11.7" height="8.8" fill="#e3e3e3" stroke="#4a4a4a" stroke-width="1.0" />
<rect x="328.4" y="503.3" width="11.3" height="8.8" fill="#e3e3e3" stroke="#4a4a4a" stroke-width="1.0" />
<rect x="331.4" y="495.3" width="8.3" height="8.0" fill="#e3e3e3" stroke="#4a4a4a" stroke-width="1.0" />
<rect x="196.2" y="129.5" width="8.5" height="8.1" fill="#fff" stroke="#333" stroke-width="1.1" />
<rect x="327.5" y="129.6" width="7.9" height="7.8" fill="#fff" stroke="#333" stroke-width="1.1" />
<rect x="407.9" y="129.6" width="8.7" height="7.9" fill="#fff" stroke="#333" stroke-width="1.1" />
<rect x="469.2" y="86.8" width="8.9" height="8.1" fill="#fff" stroke="#333" stroke-width="1.1" />
<rect x="588.3" y="86.5" width="8.6" height="8.7" fill="#fff" stroke="#333" stroke-width="1.1" />
<rect x="588.3" y="182.4" width="8.6" height="7.6" fill="#fff" stroke="#333" stroke-width="1.1" />
<rect x="470.1" y="182.7" width="7.6" height="7.2" fill="#fff" stroke="#333" stroke-width="1.1" />
<rect x="471.8" y="302.3" width="8.8" height="7.7" fill="#fff" stroke="#333" stroke-width="1.1" />
<rect x="587.0" y="302.3" width="8.3" height="7.7" fill="#fff" stroke="#333" stroke-width="1.1" />
<rect x="240.8" y="302.3" width="8.1" height="7.9" fill="#fff" stroke="#333" stroke-width="1.1" />
<rect x="355.0" y="302.0" width="8.5" height="8.6" fill="#fff" stroke="#333" stroke-width="1.1" />
<rect x="124.3" y="228.4" width="8.5" height="8.0" fill="#fff" stroke="#333" stroke-width="1.1" />
<rect x="196.1" y="228.4" width="9.0" height="8.0" fill="#fff" stroke="#333" stroke-width="1.1" />
<rect x="124.3" y="309.5" width="8.5" height="8.0" fill="#fff" stroke="#333" stroke-width="1.1" />
<rect x="123.9" y="501.2" width="8.7" height="8.1" fill="#fff" stroke="#333" stroke-width="1.1" />
<rect x="240.6" y="501.2" width="8.9" height="8.1" fill="#fff" stroke="#333" stroke-width="1.1" />
<line x1="491.6" y1="92.2" x2="491.6" y2="187.5" stroke="#666" stroke-width="1.0" />
<rect x="520.4" y="92.2" width="16.4" height="36.7" fill="#fff" stroke="#777" stroke-width="0.9" />
<rect x="520.4" y="154.1" width="16.4" height="33.4" fill="#fff" stroke="#777" stroke-width="0.9" />
<rect x="478.2" y="187.3" width="13.3" height="2.7" fill="#e3e3e3" stroke="#666" stroke-width="0.7" />
<rect x="536.8" y="92.2" width="3.0" height="36.7" fill="#e3e3e3" stroke="#4a4a4a" stroke-width="0.8" />
<rect x="536.8" y="154.1" width="3.0" height="35.9" fill="#e3e3e3" stroke="#4a4a4a" stroke-width="0.8" />
<rect x="539.8" y="92.2" width="3.8" height="26.0" fill="#e3e3e3" stroke="#4a4a4a" stroke-width="0.8" />
<rect x="539.8" y="116.8" width="51.5" height="1.8" fill="#e3e3e3" stroke="#4a4a4a" stroke-width="0.7" />
<line x1="543.6" y1="96.0" x2="543.6" y2="117.5" stroke="#777" stroke-width="0.8" />
<path d="M543.6,96.5 A21,21 0 0,1 564.6,117.5" fill="none" stroke="#888" stroke-width="0.8" />
<line x1="574.5" y1="118.6" x2="574.5" y2="162.5" stroke="#666" stroke-width="0.9" />
<ellipse cx="579.5" cy="106.2" rx="7.2" ry="5.4" fill="none" stroke="#999" stroke-width="0.8"/>
<ellipse cx="579.5" cy="106.2" rx="4.8" ry="3.6" fill="none" stroke="#bbb" stroke-width="0.6"/>
<circle cx="578.5" cy="106.2" r="1.0" fill="none" stroke="#999" stroke-width="0.6" />
<path d="M588.5,100.8 Q586.5,106.2 588.5,111.6" fill="none" stroke="#999" stroke-width="0.8" />
<line x1="591.0" y1="100.8" x2="588.5" y2="100.8" stroke="#999" stroke-width="0.7" />
<line x1="591.0" y1="111.6" x2="588.5" y2="111.6" stroke="#999" stroke-width="0.7" />
<circle cx="583.4" cy="140.3" r="6.8" fill="none" stroke="#999" stroke-width="0.9" />
<circle cx="583.4" cy="140.3" r="4.8" fill="none" stroke="#bbb" stroke-width="0.6" />
<rect x="580.2" y="131.5" width="6.4" height="3.0" fill="#fff" stroke="#aaa" stroke-width="0.6" />
<rect x="580.2" y="146.2" width="6.4" height="3.0" fill="#fff" stroke="#aaa" stroke-width="0.6" />
<line x1="586.0" y1="138.0" x2="588.0" y2="135.5" stroke="#333" stroke-width="1.2" />
<rect x="539.8" y="162.5" width="48.9" height="25.2" fill="none" stroke="#777" stroke-width="0.9" />
<rect x="541.3" y="164.0" width="45.7" height="22.0" fill="none" stroke="#aaa" stroke-width="0.6" />
<line x1="541.3" y1="164.0" x2="574.5" y2="173.0" stroke="#999" stroke-width="0.7" />
<line x1="541.3" y1="186.0" x2="574.5" y2="178.5" stroke="#999" stroke-width="0.7" />
<rect x="574.5" y="171.7" width="7.7" height="8.1" fill="#fff" stroke="#666" stroke-width="0.9" />
<line x1="582.2" y1="175.8" x2="588.0" y2="175.8" stroke="#999" stroke-width="0.6" />
<line x1="589.2" y1="163.0" x2="589.2" y2="187.5" stroke="#1e1e1e" stroke-width="1.3" />
<rect x="329.6" y="137.5" width="25.9" height="49.7" fill="none" stroke="#777" stroke-width="0.9" />
<rect x="331.2" y="139.0" width="22.8" height="46.7" fill="none" stroke="#aaa" stroke-width="0.6" />
<rect x="339.0" y="144.0" width="7.0" height="7.0" fill="#fff" stroke="#666" stroke-width="0.9" />
<line x1="342.5" y1="137.5" x2="342.5" y2="144.0" stroke="#999" stroke-width="0.6" />
<line x1="342.5" y1="151.0" x2="332.5" y2="185.5" stroke="#999" stroke-width="0.7" />
<line x1="342.5" y1="151.0" x2="352.5" y2="185.5" stroke="#999" stroke-width="0.7" />
<line x1="355.5" y1="137.5" x2="355.5" y2="187.2" stroke="#666" stroke-width="1.0" />
<rect x="362.5" y="136.0" width="25.1" height="15.3" fill="none" stroke="#999" stroke-width="0.9" />
<circle cx="375.0" cy="143.2" r="6.6" fill="none" stroke="#999" stroke-width="0.8" />
<circle cx="375.0" cy="143.2" r="4.8" fill="none" stroke="#ccc" stroke-width="0.5" />
<rect x="364.8" y="140.3" width="2.5" height="6.0" fill="#fff" stroke="#aaa" stroke-width="0.6" rx="1.2"/>
<rect x="382.7" y="140.3" width="2.5" height="6.0" fill="#fff" stroke="#aaa" stroke-width="0.6" rx="1.2"/>
<circle cx="375.0" cy="143.5" r="0.9" fill="#444" stroke="none" stroke-width="0" />
<line x1="370.5" y1="136.5" x2="373.5" y2="140.5" stroke="#333" stroke-width="1.1" />
<path d="M394.5,137 L404,137 L404,142 A5.2,5.2 0 0,1 404,148 A5.2,7 0 0,1 394.5,148 A5.2,5.2 0 0,1 394.5,142 Z" fill="none" stroke="#aaa" stroke-width="0.8" />
<circle cx="399.2" cy="148.5" r="1.3" fill="none" stroke="#aaa" stroke-width="0.6" />
<line x1="360.5" y1="167.0" x2="360.5" y2="188.0" stroke="#666" stroke-width="0.9" />
<line x1="360.5" y1="166.8" x2="365.0" y2="166.8" stroke="#666" stroke-width="0.9" />
<path d="M360.5,166.8 A21.2,21.2 0 0,1 381.7,188" fill="none" stroke="#888" stroke-width="0.8" />
<path d="M246.5,141 L257,141 A7.8,5.3 0 0,1 257,151.5 L246.5,151.5" fill="none" stroke="#aaa" stroke-width="0.8" />
<circle cx="257.5" cy="146.2" r="1.4" fill="none" stroke="#aaa" stroke-width="0.6" />
<path d="M246.5,158.5 A12.5,8.7 0 0,1 246.5,175.7" fill="none" stroke="#aaa" stroke-width="0.8" />
<path d="M246.5,160.5 A10,6.7 0 0,1 246.5,173.7" fill="none" stroke="#ccc" stroke-width="0.6" />
<line x1="248.5" y1="164.5" x2="248.5" y2="168.5" stroke="#666" stroke-width="0.8" />
<line x1="276.5" y1="166.7" x2="276.5" y2="187.5" stroke="#777" stroke-width="0.8" />
<path d="M276.5,166.7 A20.8,20.8 0 0,0 255.7,187.5" fill="none" stroke="#888" stroke-width="0.8" />
<line x1="285.3" y1="166.7" x2="285.3" y2="187.5" stroke="#777" stroke-width="0.8" />
<path d="M285.3,166.7 A20.8,20.8 0 0,1 306.1,187.5" fill="none" stroke="#888" stroke-width="0.8" />
<line x1="201.0" y1="175.0" x2="226.5" y2="175.8" stroke="#999" stroke-width="0.8" />
<path d="M226.5,175.8 A25,25 0 0,1 201.5,200.0" fill="none" stroke="#999" stroke-width="0.8" />
<line x1="201.0" y1="174.3" x2="201.0" y2="200.3" stroke="#666" stroke-width="0.9" />
<line x1="243.0" y1="134.5" x2="243.0" y2="153.0" stroke="#4a4a4a" stroke-width="0.9" />
<line x1="339.0" y1="221.2" x2="339.0" y2="242.5" stroke="#777" stroke-width="0.8" />
<path d="M317.6,221.2 A21.4,21.4 0 0,0 339.0,242.5" fill="none" stroke="#888" stroke-width="0.8" />
<line x1="380.5" y1="221.2" x2="380.5" y2="242.0" stroke="#777" stroke-width="0.8" />
<path d="M380.5,242.0 A21,21 0 0,0 401.5,221.2" fill="none" stroke="#888" stroke-width="0.8" />
<line x1="475.0" y1="193.8" x2="495.6" y2="193.8" stroke="#888" stroke-width="0.8" />
<path d="M495.6,194.0 A20.8,20.8 0 0,1 475.2,215.0" fill="none" stroke="#888" stroke-width="0.8" />
<rect x="247.2" y="244.6" width="54.3" height="42.9" fill="none" stroke="#999" stroke-width="1.2" />
<line x1="261.8" y1="244.6" x2="261.8" y2="287.5" stroke="#aaa" stroke-width="0.8" />
<line x1="247.2" y1="266.0" x2="261.8" y2="266.0" stroke="#aaa" stroke-width="0.8" />
<rect x="248.0" y="231.3" width="5.5" height="10.0" fill="#fff" stroke="#aaa" stroke-width="0.8" />
<rect x="248.6" y="233.3" width="4.3" height="7.4" fill="#c4c4c4" stroke="none" stroke-width="0" />
<circle cx="250.8" cy="236.3" r="1.5" fill="none" stroke="#777" stroke-width="0.6" />
<rect x="248.0" y="289.4" width="5.5" height="11.6" fill="#fff" stroke="#aaa" stroke-width="0.8" />
<rect x="248.6" y="291.7" width="4.3" height="8.7" fill="#c4c4c4" stroke="none" stroke-width="0" />
<circle cx="250.8" cy="295.2" r="1.5" fill="none" stroke="#777" stroke-width="0.6" />
<rect x="416.7" y="244.2" width="53.8" height="43.5" fill="none" stroke="#999" stroke-width="1.2" />
<line x1="456.3" y1="244.2" x2="456.3" y2="287.7" stroke="#aaa" stroke-width="0.8" />
<line x1="456.3" y1="266.0" x2="470.5" y2="266.0" stroke="#aaa" stroke-width="0.8" />
<rect x="464.8" y="231.2" width="7.2" height="10.7" fill="#fff" stroke="#aaa" stroke-width="0.8" />
<rect x="465.4" y="233.3" width="6.0" height="8.0" fill="#c4c4c4" stroke="none" stroke-width="0" />
<circle cx="468.4" cy="236.6" r="2.0" fill="none" stroke="#777" stroke-width="0.6" />
<rect x="464.8" y="289.2" width="7.2" height="11.6" fill="#fff" stroke="#aaa" stroke-width="0.8" />
<rect x="465.4" y="291.5" width="6.0" height="8.7" fill="#c4c4c4" stroke="none" stroke-width="0" />
<circle cx="468.4" cy="295.0" r="2.0" fill="none" stroke="#777" stroke-width="0.6" />
<rect x="526.5" y="209.0" width="63.5" height="54.1" fill="none" stroke="#aaa" stroke-width="1.0" />
<rect x="532.2" y="208.7" width="14.2" height="55.0" fill="#fff" stroke="#999" stroke-width="1.0" />
<rect x="528.5" y="211.0" width="59.5" height="50.0" fill="none" stroke="#ccc" stroke-width="0.6" />
<rect x="578.5" y="198.7" width="12.0" height="9.0" fill="#fff" stroke="#aaa" stroke-width="0.8" />
<rect x="583.9" y="199.3" width="6.0" height="7.8" fill="#c4c4c4" stroke="none" stroke-width="0" />
<circle cx="586.9" cy="203.2" r="2.5" fill="none" stroke="#777" stroke-width="0.6" />
<rect x="578.5" y="264.0" width="12.0" height="9.6" fill="#fff" stroke="#aaa" stroke-width="0.8" />
<rect x="583.9" y="264.6" width="6.0" height="8.4" fill="#c4c4c4" stroke="none" stroke-width="0" />
<circle cx="586.9" cy="268.8" r="2.7" fill="none" stroke="#777" stroke-width="0.6" />
<path d="M573.5,214.2 Q579,212.2 584.5,214.2 Q583,224.55 584.5,234.9 Q579,236.9 573.5,234.9 Q572,224.55 573.5,214.2 Z" fill="#5a5a5a" stroke="#333" stroke-width="0.7" />
<line x1="573.8" y1="217.0" x2="584.2" y2="217.0" stroke="#aaa" stroke-width="0.45" />
<line x1="573.8" y1="220.8" x2="584.2" y2="220.8" stroke="#aaa" stroke-width="0.45" />
<line x1="573.8" y1="224.6" x2="584.2" y2="224.6" stroke="#aaa" stroke-width="0.45" />
<line x1="573.8" y1="228.3" x2="584.2" y2="228.3" stroke="#aaa" stroke-width="0.45" />
<line x1="573.8" y1="232.1" x2="584.2" y2="232.1" stroke="#aaa" stroke-width="0.45" />
<line x1="575.9" y1="214.2" x2="575.9" y2="234.9" stroke="#999" stroke-width="0.45" />
<line x1="578.8" y1="214.2" x2="578.8" y2="234.9" stroke="#999" stroke-width="0.45" />
<line x1="581.7" y1="214.2" x2="581.7" y2="234.9" stroke="#999" stroke-width="0.45" />
<path d="M573.5,237.1 Q579,235.1 584.5,237.1 Q583,247.45 584.5,257.8 Q579,259.8 573.5,257.8 Q572,247.45 573.5,237.1 Z" fill="#5a5a5a" stroke="#333" stroke-width="0.7" />
<line x1="573.8" y1="239.9" x2="584.2" y2="239.9" stroke="#aaa" stroke-width="0.45" />
<line x1="573.8" y1="243.7" x2="584.2" y2="243.7" stroke="#aaa" stroke-width="0.45" />
<line x1="573.8" y1="247.4" x2="584.2" y2="247.4" stroke="#aaa" stroke-width="0.45" />
<line x1="573.8" y1="251.2" x2="584.2" y2="251.2" stroke="#aaa" stroke-width="0.45" />
<line x1="573.8" y1="255.0" x2="584.2" y2="255.0" stroke="#aaa" stroke-width="0.45" />
<line x1="575.9" y1="237.1" x2="575.9" y2="257.8" stroke="#999" stroke-width="0.45" />
<line x1="578.8" y1="237.1" x2="578.8" y2="257.8" stroke="#999" stroke-width="0.45" />
<line x1="581.7" y1="237.1" x2="581.7" y2="257.8" stroke="#999" stroke-width="0.45" />
<g transform="translate(490.2,276.9) rotate(-30)">
<circle cx="0.0" cy="0.0" r="11.6" fill="#fff" stroke="#444" stroke-width="1.0" />
<rect x="-7.5" y="-7.5" width="15.0" height="15.0" fill="none" stroke="#aaa" stroke-width="0.8" rx="4"/>
<rect x="-8.0" y="-5.5" width="3.0" height="11.0" fill="#fff" stroke="#999" stroke-width="0.7" />
</g>
<g transform="translate(515.1,287.5) rotate(-25)">
<circle cx="0.0" cy="0.0" r="11.6" fill="#fff" stroke="#444" stroke-width="1.0" />
<rect x="-7.5" y="-7.5" width="15.0" height="15.0" fill="none" stroke="#aaa" stroke-width="0.8" rx="4"/>
<rect x="-5.5" y="5.0" width="11.0" height="3.0" fill="#fff" stroke="#999" stroke-width="0.7" />
</g>
<rect x="129.3" y="236.4" width="73.1" height="16.9" fill="#fff" stroke="#555" stroke-width="0.9" />
<rect x="185.4" y="236.4" width="17.0" height="16.9" fill="#b4b4b4" stroke="#666" stroke-width="0.8" />
<rect x="133.5" y="238.5" width="22.0" height="12.5" fill="#fff" stroke="#aaa" stroke-width="0.6" />
<path d="M134.5,244.4 A4.6,5.2 0 1,0 143.7,244.4 A4.6,5.2 0 1,0 134.5,244.4" fill="#9a9a9a" stroke="#555" stroke-width="0.8" />
<circle cx="149.8" cy="244.4" r="4.9" fill="#2a2a2a" stroke="#222" stroke-width="0.8" />
<line x1="145.8" y1="242.2" x2="153.8" y2="242.2" stroke="#ccc" stroke-width="0.6" />
<line x1="145.8" y1="244.4" x2="153.8" y2="244.4" stroke="#ccc" stroke-width="0.6" />
<line x1="145.8" y1="246.6" x2="153.8" y2="246.6" stroke="#ccc" stroke-width="0.6" />
<rect x="129.3" y="286.3" width="73.1" height="22.9" fill="#fff" stroke="#555" stroke-width="0.9" />
<rect x="137.3" y="290.8" width="16.6" height="14.2" fill="#4a4a4a" stroke="#333" stroke-width="0.8" />
<circle cx="141.3" cy="294.8" r="2.3" fill="none" stroke="#888" stroke-width="0.5" />
<circle cx="141.3" cy="301.2" r="2.3" fill="none" stroke="#888" stroke-width="0.5" />
<circle cx="149.6" cy="294.8" r="2.3" fill="none" stroke="#888" stroke-width="0.5" />
<circle cx="149.6" cy="301.2" r="2.3" fill="none" stroke="#888" stroke-width="0.5" />
<path d="M162.3,309.2 L163.3,317.5 Q168.5,320.5 173.7,317.5 L174.7,309.2" fill="none" stroke="#999" stroke-width="0.8" />
<line x1="163.8" y1="311.0" x2="173.2" y2="311.0" stroke="#bbb" stroke-width="0.6" />
<path d="M180.1,309.2 L181.1,317.5 Q186.8,320.5 192.5,317.5 L193.5,309.2" fill="none" stroke="#999" stroke-width="0.8" />
<line x1="181.6" y1="311.0" x2="192.0" y2="311.0" stroke="#bbb" stroke-width="0.6" />
<rect x="157.4" y="353.2" width="56.0" height="28.2" fill="#fff" stroke="#888" stroke-width="0.9" />
<path d="M162.9,353.2 L164.1,343.5 L172.1,343.5 L173.29999999999998,353.2" fill="none" stroke="#999" stroke-width="0.8" />
<rect x="163.9" y="341.2" width="8.4" height="2.6" fill="#444" stroke="#555" stroke-width="0.5" />
<path d="M162.9,381.4 L164.1,391.5 L172.1,391.5 L173.29999999999998,381.4" fill="none" stroke="#999" stroke-width="0.8" />
<rect x="163.9" y="391.3" width="8.4" height="3.0" fill="#444" stroke="#555" stroke-width="0.5" />
<path d="M179.70000000000002,353.2 L180.9,343.5 L188.9,343.5 L190.1,353.2" fill="none" stroke="#999" stroke-width="0.8" />
<rect x="180.7" y="341.2" width="8.4" height="2.6" fill="#444" stroke="#555" stroke-width="0.5" />
<path d="M179.70000000000002,381.4 L180.9,391.5 L188.9,391.5 L190.1,381.4" fill="none" stroke="#999" stroke-width="0.8" />
<rect x="180.7" y="391.3" width="8.4" height="3.0" fill="#444" stroke="#555" stroke-width="0.5" />
<path d="M196.8,353.2 L198.0,343.5 L206.0,343.5 L207.2,353.2" fill="none" stroke="#999" stroke-width="0.8" />
<rect x="197.8" y="341.2" width="8.4" height="2.6" fill="#444" stroke="#555" stroke-width="0.5" />
<path d="M196.8,381.4 L198.0,391.5 L206.0,391.5 L207.2,381.4" fill="none" stroke="#999" stroke-width="0.8" />
<rect x="197.8" y="391.3" width="8.4" height="3.0" fill="#444" stroke="#555" stroke-width="0.5" />
<path d="M139.5,416 L222.7,416 L222.7,445.9 L173.8,445.9 L169.3,450 L169.3,475.7 L139.5,475.7 Z" fill="none" stroke="#777" stroke-width="0.9" stroke-linejoin="round"/>
<path d="M140.5,417 L221.7,417 L221.7,444.9 L172.8,444.9 L168.3,449 L168.3,474.7 L140.5,474.7 Z" fill="none" stroke="#bbb" stroke-width="0.5" />
<rect x="164.0" y="416.5" width="50.0" height="7.5" fill="#fff" stroke="#888" stroke-width="0.8" rx="3"/>
<path d="M139.5,416 L147.9,424.5 L147.9,475.7" fill="none" stroke="#999" stroke-width="0.7" />
<line x1="147.9" y1="424.5" x2="164.0" y2="424.5" stroke="#999" stroke-width="0.7" />
<rect x="139.5" y="441.0" width="8.0" height="25.0" fill="#fff" stroke="#888" stroke-width="0.8" rx="1.5"/>
<line x1="174.5" y1="424.5" x2="174.5" y2="445.9" stroke="#999" stroke-width="0.7" />
<line x1="198.0" y1="424.5" x2="198.0" y2="445.9" stroke="#999" stroke-width="0.7" />
<line x1="147.9" y1="450.5" x2="169.3" y2="450.5" stroke="#999" stroke-width="0.7" />
<g transform="translate(155,428) rotate(-18)">
<rect x="-7.0" y="-2.6" width="14.0" height="5.2" fill="#fff" stroke="#999" stroke-width="0.7" rx="2.5"/>
</g>
<g transform="translate(168,426) rotate(-18)">
<rect x="-7.0" y="-2.6" width="14.0" height="5.2" fill="#fff" stroke="#999" stroke-width="0.7" rx="2.5"/>
</g>
<g transform="translate(207,427) rotate(20)">
<rect x="-7.0" y="-2.6" width="14.0" height="5.2" fill="#fff" stroke="#999" stroke-width="0.7" rx="2.5"/>
</g>
<rect x="147.9" y="440.0" width="3.6" height="17.0" fill="#fff" stroke="#999" stroke-width="0.6" rx="1.7"/>
<rect x="186.1" y="461.1" width="19.4" height="20.2" fill="#fff" stroke="#999" stroke-width="0.8" rx="3"/>
<circle cx="196.0" cy="468.5" r="3.2" fill="none" stroke="#666" stroke-width="0.7" />
<line x1="196.0" y1="466.0" x2="196.0" y2="472.0" stroke="#666" stroke-width="0.6" />
<path d="M193.5,477 A2,2 0 1,1 197,476 L199,476" fill="none" stroke="#666" stroke-width="0.6" />
<line x1="189.5" y1="465.5" x2="190.8" y2="466.0" stroke="#555" stroke-width="0.8" />
<rect x="150.5" y="491.7" width="72.2" height="11.5" fill="#fff" stroke="#999" stroke-width="0.8" />
<line x1="150.5" y1="494.2" x2="222.7" y2="494.2" stroke="#aaa" stroke-width="0.6" />
<line x1="177.5" y1="494.2" x2="177.5" y2="503.2" stroke="#aaa" stroke-width="0.6" />
<rect x="181.0" y="498.0" width="35.0" height="3.5" fill="#fff" stroke="#aaa" stroke-width="0.6" rx="1.5"/>
<line x1="160.5" y1="492.3" x2="177.5" y2="492.3" stroke="#555" stroke-width="0.8" />
<rect x="272.1" y="386.4" width="51.2" height="21.4" fill="#fff" stroke="#888" stroke-width="0.9" />
<line x1="281.0" y1="370.5" x2="281.0" y2="386.4" stroke="#999" stroke-width="0.8" />
<line x1="291.8" y1="370.5" x2="291.8" y2="386.4" stroke="#999" stroke-width="0.8" />
<line x1="282.5" y1="372.0" x2="282.5" y2="386.4" stroke="#ccc" stroke-width="0.5" />
<line x1="290.3" y1="372.0" x2="290.3" y2="386.4" stroke="#ccc" stroke-width="0.5" />
<rect x="280.0" y="370.3" width="12.8" height="2.0" fill="#888" stroke="#777" stroke-width="0.5" />
<line x1="281.0" y1="407.8" x2="281.0" y2="423.5" stroke="#999" stroke-width="0.8" />
<line x1="291.8" y1="407.8" x2="291.8" y2="423.5" stroke="#999" stroke-width="0.8" />
<line x1="282.5" y1="407.8" x2="282.5" y2="422.0" stroke="#ccc" stroke-width="0.5" />
<line x1="290.3" y1="407.8" x2="290.3" y2="422.0" stroke="#ccc" stroke-width="0.5" />
<rect x="280.0" y="421.8" width="12.8" height="2.0" fill="#888" stroke="#777" stroke-width="0.5" />
<line x1="302.2" y1="370.5" x2="302.2" y2="386.4" stroke="#999" stroke-width="0.8" />
<line x1="313.2" y1="370.5" x2="313.2" y2="386.4" stroke="#999" stroke-width="0.8" />
<line x1="303.7" y1="372.0" x2="303.7" y2="386.4" stroke="#ccc" stroke-width="0.5" />
<line x1="311.7" y1="372.0" x2="311.7" y2="386.4" stroke="#ccc" stroke-width="0.5" />
<rect x="301.2" y="370.3" width="13.0" height="2.0" fill="#888" stroke="#777" stroke-width="0.5" />
<line x1="302.2" y1="407.8" x2="302.2" y2="423.5" stroke="#999" stroke-width="0.8" />
<line x1="313.2" y1="407.8" x2="313.2" y2="423.5" stroke="#999" stroke-width="0.8" />
<line x1="303.7" y1="407.8" x2="303.7" y2="422.0" stroke="#ccc" stroke-width="0.5" />
<line x1="311.7" y1="407.8" x2="311.7" y2="422.0" stroke="#ccc" stroke-width="0.5" />
<rect x="301.2" y="421.8" width="13.0" height="2.0" fill="#888" stroke="#777" stroke-width="0.5" />
<g transform="translate(275.5,449.4) rotate(-42)">
<rect x="-11.0" y="-11.0" width="22.0" height="22.0" fill="#fff" stroke="#333" stroke-width="1.2" rx="2"/>
<rect x="-8.5" y="-8.5" width="17.0" height="17.0" fill="none" stroke="#999" stroke-width="0.6" />
<line x1="-8.5" y1="-8.5" x2="0.0" y2="3.0" stroke="#999" stroke-width="0.5" />
<line x1="8.5" y1="-8.5" x2="0.0" y2="3.0" stroke="#999" stroke-width="0.5" />
<line x1="0.0" y1="3.0" x2="-8.5" y2="8.5" stroke="#999" stroke-width="0.5" />
<line x1="0.0" y1="3.0" x2="8.5" y2="8.5" stroke="#999" stroke-width="0.5" />
<line x1="-5.0" y1="-7.0" x2="5.0" y2="-7.0" stroke="#555" stroke-width="0.6" />
<line x1="-5.0" y1="-5.4" x2="5.0" y2="-5.4" stroke="#555" stroke-width="0.6" />
<line x1="-5.0" y1="-3.8" x2="5.0" y2="-3.8" stroke="#555" stroke-width="0.6" />
</g>
<g transform="translate(275.2,486.0) rotate(210)">
<rect x="-11.0" y="-11.0" width="22.0" height="22.0" fill="#fff" stroke="#333" stroke-width="1.2" rx="2"/>
<rect x="-8.5" y="-8.5" width="17.0" height="17.0" fill="none" stroke="#999" stroke-width="0.6" />
<line x1="-8.5" y1="-8.5" x2="0.0" y2="3.0" stroke="#999" stroke-width="0.5" />
<line x1="8.5" y1="-8.5" x2="0.0" y2="3.0" stroke="#999" stroke-width="0.5" />
<line x1="0.0" y1="3.0" x2="-8.5" y2="8.5" stroke="#999" stroke-width="0.5" />
<line x1="0.0" y1="3.0" x2="8.5" y2="8.5" stroke="#999" stroke-width="0.5" />
<line x1="-5.0" y1="-7.0" x2="5.0" y2="-7.0" stroke="#555" stroke-width="0.6" />
<line x1="-5.0" y1="-5.4" x2="5.0" y2="-5.4" stroke="#555" stroke-width="0.6" />
<line x1="-5.0" y1="-3.8" x2="5.0" y2="-3.8" stroke="#555" stroke-width="0.6" />
</g>
<path d="M173.3,150.3 L178.1,151.4 L186.4,148.9 L177.7,148.3 Z" fill="#555" stroke="none" stroke-width="0" />
<path d="M172.9,150.6 L176.1,152.6 L182.9,153.5 L176.7,150.7 Z" fill="#777" stroke="none" stroke-width="0" />
<path d="M173.9,150.5 L177.2,153.5 L184.7,157.2 L178.1,152.2 Z" fill="#777" stroke="none" stroke-width="0" />
<path d="M172.9,149.5 L174.0,152.5 L178.4,156.2 L175.7,151.1 Z" fill="#1a1a1a" stroke="none" stroke-width="0" />
<path d="M175.7,149.4 L175.8,153.2 L178.7,159.4 L177.7,152.6 Z" fill="#777" stroke="none" stroke-width="0" />
<path d="M173.7,148.2 L172.7,153.1 L174.6,162.0 L175.4,152.9 Z" fill="#555" stroke="none" stroke-width="0" />
<path d="M176.5,147.7 L175.2,151.0 L175.2,157.5 L176.9,151.2 Z" fill="#999" stroke="none" stroke-width="0" />
<path d="M176.4,151.2 L173.4,154.6 L170.8,162.3 L175.4,155.6 Z" fill="#555" stroke="none" stroke-width="0" />
<path d="M174.0,149.7 L169.8,152.5 L164.9,160.2 L171.8,154.2 Z" fill="#333" stroke="none" stroke-width="0" />
<path d="M176.2,149.2 L171.5,150.1 L164.3,155.1 L172.6,152.4 Z" fill="#999" stroke="none" stroke-width="0" />
<path d="M175.0,150.1 L171.1,149.5 L164.7,152.3 L171.7,152.3 Z" fill="#555" stroke="none" stroke-width="0" />
<path d="M173.2,148.0 L169.7,146.5 L162.9,147.4 L169.5,149.0 Z" fill="#999" stroke="none" stroke-width="0" />
<path d="M173.0,150.1 L170.2,147.3 L163.4,146.2 L169.0,150.2 Z" fill="#777" stroke="none" stroke-width="0" />
<path d="M173.5,148.2 L171.2,144.6 L164.6,140.5 L169.6,146.4 Z" fill="#333" stroke="none" stroke-width="0" />
<path d="M173.7,149.4 L172.4,145.9 L166.7,143.3 L170.1,148.5 Z" fill="#999" stroke="none" stroke-width="0" />
<path d="M175.4,149.7 L175.5,145.5 L172.1,138.6 L173.1,146.2 Z" fill="#555" stroke="none" stroke-width="0" />
<path d="M176.0,149.4 L177.4,145.6 L175.3,139.0 L174.1,145.9 Z" fill="#999" stroke="none" stroke-width="0" />
<path d="M175.1,148.1 L176.5,144.5 L176.8,137.5 L174.8,144.3 Z" fill="#555" stroke="none" stroke-width="0" />
<path d="M172.8,149.5 L175.5,146.4 L177.4,139.4 L173.4,145.5 Z" fill="#555" stroke="none" stroke-width="0" />
<path d="M175.3,149.5 L178.9,148.0 L182.6,142.5 L176.9,146.0 Z" fill="#333" stroke="none" stroke-width="0" />
<path d="M172.9,151.1 L176.1,150.3 L179.7,145.7 L174.5,148.1 Z" fill="#555" stroke="none" stroke-width="0" />
<path d="M173.8,147.7 L178.6,147.0 L186.0,142.4 L177.6,144.7 Z" fill="#555" stroke="none" stroke-width="0" />
<path d="M267.7,330.0 L272.4,331.5 L281.5,331.9 L272.7,329.8 Z" fill="#1a1a1a" stroke="none" stroke-width="0" />
<path d="M268.7,331.6 L272.7,334.3 L281.1,336.5 L273.4,332.4 Z" fill="#333" stroke="none" stroke-width="0" />
<path d="M270.1,331.5 L272.9,334.2 L279.7,336.3 L274.0,332.1 Z" fill="#999" stroke="none" stroke-width="0" />
<path d="M267.8,333.0 L269.4,336.1 L274.2,340.3 L270.7,335.0 Z" fill="#1a1a1a" stroke="none" stroke-width="0" />
<path d="M268.5,330.2 L268.1,334.3 L271.8,340.4 L271.3,333.3 Z" fill="#333" stroke="none" stroke-width="0" />
<path d="M267.7,331.4 L267.8,335.0 L270.6,341.0 L269.6,334.5 Z" fill="#999" stroke="none" stroke-width="0" />
<path d="M269.2,332.9 L267.2,337.6 L267.0,346.9 L269.7,338.0 Z" fill="#777" stroke="none" stroke-width="0" />
<path d="M266.9,332.3 L263.7,335.7 L260.7,343.6 L265.8,336.8 Z" fill="#777" stroke="none" stroke-width="0" />
<path d="M267.4,331.3 L263.8,333.1 L259.8,339.1 L265.7,334.9 Z" fill="#777" stroke="none" stroke-width="0" />
<path d="M269.9,331.1 L265.3,332.3 L259.0,338.1 L266.9,334.8 Z" fill="#777" stroke="none" stroke-width="0" />
<path d="M268.9,333.1 L263.9,332.8 L255.7,336.7 L264.7,335.8 Z" fill="#777" stroke="none" stroke-width="0" />
<path d="M267.4,332.9 L262.9,330.8 L254.3,331.7 L262.6,334.2 Z" fill="#999" stroke="none" stroke-width="0" />
<path d="M268.5,331.3 L264.1,328.8 L255.0,328.2 L263.5,331.7 Z" fill="#999" stroke="none" stroke-width="0" />
<path d="M268.3,333.0 L266.2,329.7 L259.7,327.0 L264.4,332.2 Z" fill="#777" stroke="none" stroke-width="0" />
<path d="M269.9,330.1 L269.3,326.7 L264.6,323.4 L266.8,328.7 Z" fill="#1a1a1a" stroke="none" stroke-width="0" />
<path d="M268.7,332.0 L269.0,328.7 L265.7,324.1 L266.3,329.8 Z" fill="#555" stroke="none" stroke-width="0" />
<path d="M267.3,330.1 L268.1,325.7 L267.1,317.5 L266.3,325.7 Z" fill="#555" stroke="none" stroke-width="0" />
<path d="M266.5,330.7 L268.9,327.5 L269.2,320.4 L266.0,326.7 Z" fill="#1a1a1a" stroke="none" stroke-width="0" />
<path d="M266.4,332.2 L268.3,329.8 L269.3,324.5 L266.5,329.2 Z" fill="#1a1a1a" stroke="none" stroke-width="0" />
<path d="M269.2,331.4 L272.4,329.4 L274.5,323.3 L269.7,327.7 Z" fill="#333" stroke="none" stroke-width="0" />
<path d="M266.9,329.4 L271.0,327.9 L275.7,321.7 L268.9,325.5 Z" fill="#333" stroke="none" stroke-width="0" />
<path d="M267.4,331.3 L271.9,331.4 L278.6,327.4 L270.9,328.4 Z" fill="#1a1a1a" stroke="none" stroke-width="0" />
<rect x="430.0" y="321.0" width="38.0" height="16.0" fill="none" stroke="#aaa" stroke-width="0.7" />
<path d="M437.4,329.3 L441.6,330.2 L449.2,328.4 L441.4,327.8 Z" fill="#999" stroke="none" stroke-width="0" />
<path d="M436.4,331.0 L440.7,333.7 L449.9,335.4 L441.5,331.3 Z" fill="#999" stroke="none" stroke-width="0" />
<path d="M436.4,327.6 L439.8,331.2 L448.0,334.9 L441.2,329.1 Z" fill="#333" stroke="none" stroke-width="0" />
<path d="M436.1,330.8 L437.6,334.4 L442.1,339.9 L438.9,333.5 Z" fill="#1a1a1a" stroke="none" stroke-width="0" />
<path d="M437.4,329.9 L438.5,334.7 L444.5,341.1 L441.3,332.9 Z" fill="#555" stroke="none" stroke-width="0" />
<path d="M438.4,329.3 L436.8,333.9 L438.8,342.2 L440.3,333.8 Z" fill="#777" stroke="none" stroke-width="0" />
<path d="M436.0,327.9 L434.0,330.7 L433.5,336.7 L436.3,331.3 Z" fill="#1a1a1a" stroke="none" stroke-width="0" />
<path d="M437.2,330.3 L433.9,332.9 L431.2,339.7 L436.3,334.4 Z" fill="#555" stroke="none" stroke-width="0" />
<path d="M439.1,329.7 L435.5,332.0 L431.2,338.4 L437.2,333.6 Z" fill="#333" stroke="none" stroke-width="0" />
<path d="M438.3,328.3 L433.2,328.8 L425.8,334.2 L434.7,332.0 Z" fill="#333" stroke="none" stroke-width="0" />
<path d="M438.0,331.0 L433.7,331.2 L426.5,334.2 L434.2,333.0 Z" fill="#333" stroke="none" stroke-width="0" />
<path d="M435.9,330.2 L432.6,329.1 L426.7,330.8 L432.7,331.7 Z" fill="#777" stroke="none" stroke-width="0" />
<path d="M439.0,327.2 L436.1,325.3 L430.0,324.8 L435.5,327.4 Z" fill="#777" stroke="none" stroke-width="0" />
<path d="M437.7,330.7 L436.1,327.7 L430.6,325.7 L434.3,330.2 Z" fill="#555" stroke="none" stroke-width="0" />
<path d="M435.8,329.4 L434.0,326.4 L428.9,322.4 L432.8,327.5 Z" fill="#1a1a1a" stroke="none" stroke-width="0" />
<path d="M436.6,329.8 L435.8,326.3 L431.4,321.6 L433.7,327.6 Z" fill="#999" stroke="none" stroke-width="0" />
<path d="M439.1,328.5 L440.3,324.8 L439.1,318.0 L437.9,324.8 Z" fill="#333" stroke="none" stroke-width="0" />
<path d="M438.2,327.4 L440.2,323.5 L439.7,315.8 L437.3,323.2 Z" fill="#999" stroke="none" stroke-width="0" />
<path d="M439.2,328.7 L442.7,325.3 L446.5,317.4 L440.9,324.2 Z" fill="#333" stroke="none" stroke-width="0" />
<path d="M439.4,328.3 L442.5,326.1 L445.6,320.0 L440.7,324.7 Z" fill="#777" stroke="none" stroke-width="0" />
<path d="M437.4,329.7 L441.4,328.1 L447.3,322.8 L440.3,326.5 Z" fill="#555" stroke="none" stroke-width="0" />
<path d="M437.9,330.8 L442.6,330.8 L450.0,326.7 L441.6,327.9 Z" fill="#1a1a1a" stroke="none" stroke-width="0" />
<path d="M459.2,327.1 L462.4,328.0 L468.2,326.4 L462.2,325.6 Z" fill="#333" stroke="none" stroke-width="0" />
<path d="M459.7,329.1 L462.6,331.9 L469.5,332.2 L463.6,328.5 Z" fill="#1a1a1a" stroke="none" stroke-width="0" />
<path d="M462.6,327.1 L465.0,329.5 L470.9,331.7 L465.9,327.9 Z" fill="#333" stroke="none" stroke-width="0" />
<path d="M460.0,329.5 L461.4,332.9 L466.3,337.4 L463.1,331.6 Z" fill="#333" stroke="none" stroke-width="0" />
<path d="M462.2,328.3 L462.3,333.5 L467.0,341.3 L465.4,332.3 Z" fill="#1a1a1a" stroke="none" stroke-width="0" />
<path d="M459.2,330.7 L458.7,334.4 L460.9,340.6 L460.8,334.0 Z" fill="#555" stroke="none" stroke-width="0" />
<path d="M461.1,330.5 L459.0,334.3 L458.1,342.0 L461.1,334.8 Z" fill="#555" stroke="none" stroke-width="0" />
<path d="M460.0,328.8 L456.8,331.7 L454.1,338.8 L458.9,332.9 Z" fill="#999" stroke="none" stroke-width="0" />
<path d="M459.0,329.5 L455.6,331.4 L453.0,337.6 L458.2,333.3 Z" fill="#1a1a1a" stroke="none" stroke-width="0" />
<path d="M459.4,329.7 L455.3,331.1 L449.9,336.7 L456.8,333.2 Z" fill="#555" stroke="none" stroke-width="0" />
<path d="M459.9,328.4 L454.8,329.1 L447.0,334.1 L456.0,331.7 Z" fill="#777" stroke="none" stroke-width="0" />
<path d="M459.2,327.2 L455.7,325.6 L448.8,326.5 L455.5,328.3 Z" fill="#555" stroke="none" stroke-width="0" />
<path d="M459.3,330.7 L455.0,328.4 L446.3,328.1 L454.5,331.2 Z" fill="#333" stroke="none" stroke-width="0" />
<path d="M462.4,330.8 L460.3,328.3 L454.9,326.7 L459.2,330.4 Z" fill="#1a1a1a" stroke="none" stroke-width="0" />
<path d="M460.1,327.6 L457.7,323.1 L451.4,316.1 L456.4,324.1 Z" fill="#555" stroke="none" stroke-width="0" />
<path d="M460.0,327.8 L459.7,322.7 L454.8,314.9 L456.6,323.9 Z" fill="#1a1a1a" stroke="none" stroke-width="0" />
<path d="M460.1,327.0 L460.8,323.7 L458.7,317.9 L458.4,324.0 Z" fill="#333" stroke="none" stroke-width="0" />
<path d="M462.8,329.3 L464.4,326.0 L462.8,319.8 L461.2,326.0 Z" fill="#555" stroke="none" stroke-width="0" />
<path d="M459.0,327.2 L462.0,324.8 L462.9,318.3 L458.8,323.4 Z" fill="#1a1a1a" stroke="none" stroke-width="0" />
<path d="M461.0,329.3 L464.3,326.3 L468.3,319.0 L462.8,325.2 Z" fill="#1a1a1a" stroke="none" stroke-width="0" />
<path d="M461.9,328.6 L465.3,328.2 L468.9,323.6 L463.4,325.5 Z" fill="#555" stroke="none" stroke-width="0" />
<path d="M460.8,327.9 L464.9,328.4 L472.1,326.3 L464.6,326.3 Z" fill="#777" stroke="none" stroke-width="0" />
<text transform="translate(166.00,190.60) scale(0.622,1)" x="0" y="0" font-size="7.78" textLength="36.97" lengthAdjust="spacing" fill="#111" stroke="#111" stroke-width="0.43" font-weight="bold" >ACCESO</text>
<text transform="translate(207.80,146.30) scale(0.729,1)" x="0" y="0" font-size="7.78" textLength="41.29" lengthAdjust="spacing" fill="#111" stroke="#111" stroke-width="0.43" font-weight="bold" >ARMARIO</text>
<text transform="translate(207.80,190.60) scale(0.662,1)" x="0" y="0" font-size="7.78" textLength="48.49" lengthAdjust="spacing" fill="#111" stroke="#111" stroke-width="0.43" font-weight="bold" >RECIBIDOR</text>
<text transform="translate(257.50,180.60) scale(0.645,1)" x="0" y="0" font-size="7.78" textLength="24.49" lengthAdjust="spacing" fill="#111" stroke="#111" stroke-width="0.43" font-weight="bold" >ASEO</text>
<text transform="translate(368.60,172.70) scale(0.714,1)" x="0" y="0" font-size="7.78" textLength="32.65" lengthAdjust="spacing" fill="#111" stroke="#111" stroke-width="0.43" font-weight="bold" >BAÑO 2</text>
<text transform="translate(339.70,208.30) scale(0.666,1)" x="0" y="0" font-size="7.78" textLength="36.81" lengthAdjust="spacing" fill="#111" stroke="#111" stroke-width="0.43" font-weight="bold" >PASILLO</text>
<text transform="translate(544.90,146.50) scale(0.711,1)" x="0" y="0" font-size="7.78" textLength="32.65" lengthAdjust="spacing" fill="#111" stroke="#111" stroke-width="0.43" font-weight="bold" >BAÑO 1</text>
<text transform="translate(264.80,237.50) scale(0.731,1)" x="0" y="0" font-size="7.78" textLength="63.22" lengthAdjust="spacing" fill="#111" stroke="#111" stroke-width="0.43" font-weight="bold" >DORMITORIO 3</text>
<text transform="translate(408.50,237.80) scale(0.732,1)" x="0" y="0" font-size="7.78" textLength="63.22" lengthAdjust="spacing" fill="#111" stroke="#111" stroke-width="0.43" font-weight="bold" >DORMITORIO 2</text>
<text transform="translate(536.00,290.50) scale(0.717,1)" x="0" y="0" font-size="7.78" textLength="63.22" lengthAdjust="spacing" fill="#111" stroke="#111" stroke-width="0.43" font-weight="bold" >DORMITORIO 1</text>
<text transform="translate(165.80,273.00) scale(0.695,1)" x="0" y="0" font-size="7.78" textLength="34.09" lengthAdjust="spacing" fill="#111" stroke="#111" stroke-width="0.43" font-weight="bold" >COCINA</text>
<text transform="translate(151.60,409.00) scale(0.697,1)" x="0" y="0" font-size="7.78" textLength="83.06" lengthAdjust="spacing" fill="#111" stroke="#111" stroke-width="0.43" font-weight="bold" >SALON - COMEDOR</text>
<text transform="translate(281.00,357.30) scale(0.681,1)" x="0" y="0" font-size="7.78" textLength="41.29" lengthAdjust="spacing" fill="#111" stroke="#111" stroke-width="0.43" font-weight="bold" >TERRAZA</text>
<text transform="translate(363.50,329.30) scale(0.683,1)" x="0" y="0" font-size="7.78" textLength="76.99" lengthAdjust="spacing" fill="#111" stroke="#111" stroke-width="0.43" font-weight="bold" >PASEO CUBIERTO</text>
<text transform="translate(299.3,175.7) rotate(-90) scale(0.661,1)" x="0" y="0" font-size="7.78" textLength="38.9" lengthAdjust="spacing" fill="#111" stroke="#111" stroke-width="0.43" font-weight="bold">GALERIA</text>
<text transform="translate(509.6,157.5) rotate(-90) scale(0.693,1)" x="0" y="0" font-size="7.78" textLength="44.2" lengthAdjust="spacing" fill="#111" stroke="#111" stroke-width="0.43" font-weight="bold">VESTIDOR</text>
<rect x="257.0" y="187.0" width="4.0" height="3.6" fill="#c8c8c8" stroke="#888" stroke-width="0.6" />
<rect x="301.4" y="187.0" width="4.0" height="3.6" fill="#c8c8c8" stroke="#888" stroke-width="0.6" />
<rect x="376.1" y="187.0" width="4.0" height="3.6" fill="#c8c8c8" stroke="#888" stroke-width="0.6" />
<rect x="318.0" y="217.8" width="4.0" height="3.6" fill="#c8c8c8" stroke="#888" stroke-width="0.6" />
<rect x="397.5" y="217.8" width="4.0" height="3.6" fill="#c8c8c8" stroke="#888" stroke-width="0.6" />
<rect x="254.8" y="187.3" width="2.4" height="3.0" fill="#222" stroke="none" stroke-width="0" />
<rect x="275.0" y="187.3" width="2.4" height="3.0" fill="#222" stroke="none" stroke-width="0" />
<rect x="284.2" y="187.3" width="2.4" height="3.0" fill="#222" stroke="none" stroke-width="0" />
<rect x="304.8" y="187.3" width="2.4" height="3.0" fill="#222" stroke="none" stroke-width="0" />
<rect x="358.4" y="187.3" width="2.4" height="3.0" fill="#222" stroke="none" stroke-width="0" />
<rect x="381.3" y="187.3" width="2.4" height="3.0" fill="#222" stroke="none" stroke-width="0" />
<rect x="315.4" y="218.1" width="2.4" height="3.0" fill="#222" stroke="none" stroke-width="0" />
<rect x="338.0" y="218.1" width="2.4" height="3.0" fill="#222" stroke="none" stroke-width="0" />
<rect x="378.7" y="218.1" width="2.4" height="3.0" fill="#222" stroke="none" stroke-width="0" />
<rect x="401.0" y="218.1" width="2.4" height="3.0" fill="#222" stroke="none" stroke-width="0" />
<rect x="472.4" y="206.5" width="3.6" height="4.0" fill="#c8c8c8" stroke="#888" stroke-width="0.6" />
<rect x="472.7" y="189.8" width="3.0" height="2.4" fill="#222" stroke="none" stroke-width="0" />
<rect x="472.7" y="213.6" width="3.0" height="2.4" fill="#222" stroke="none" stroke-width="0" />
<rect x="198.7" y="193.0" width="3.6" height="4.0" fill="#c8c8c8" stroke="#888" stroke-width="0.6" />
</svg></body></html>
